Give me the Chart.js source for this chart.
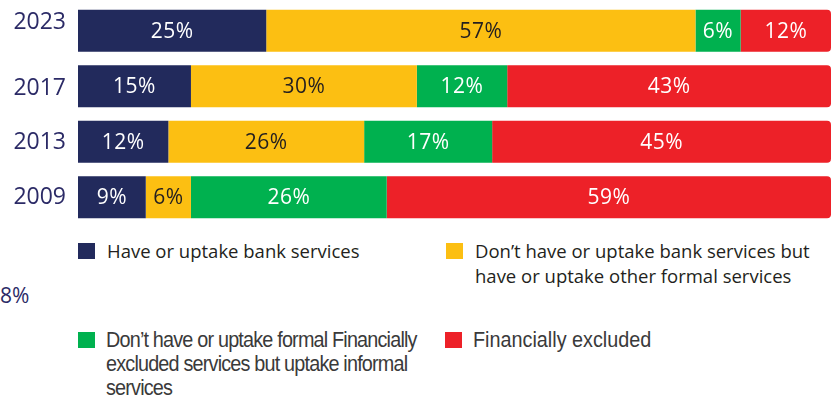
<!DOCTYPE html>
<html>
<head>
<meta charset="utf-8">
<script src="https://cdn.jsdelivr.net/npm/chart.js@4"></script>
<style>
  html, body { margin: 0; padding: 0; background: #ffffff; }
  #wrap { position: relative; width: 835px; height: 400px; overflow: hidden; }
  #c { position: absolute; left: 0; top: 0; }
  .sw { position: absolute; width: 17px; height: 16px; }
  .txt { position: absolute; white-space: nowrap; }
  .reg { font-family: "Open Sans", sans-serif; font-size: 18.5px; color: #231f20; line-height: 25px; }
  .cond { font-family: "Liberation Sans", Arial, sans-serif; font-size: 22px; color: #3a3a3a; line-height: 24px;
          transform: scaleX(0.9); transform-origin: 0 0; }
  .tight { letter-spacing: -0.9px; }
  #stray { position: absolute; left: 0; top: 281px; font-family: "Open Sans", sans-serif; font-size: 21px; color: #2b2a66; }
</style>
</head>
<body>
<div id="wrap">
  <canvas id="c" width="835" height="228"></canvas>
  <div id="stray">8%</div>
  <div id="legend"></div>
</div>
<script>
// Survey years, top to bottom
const years = ['2023', '2017', '2013', '2009'];

// Share of adults (%) in each access group
const bankServices = [25, 15, 12, 9];
const otherFormal  = [57, 30, 26, 6];
const informalOnly = [6, 12, 17, 26];
const excluded     = [12, 43, 45, 59];

const seriesNames = [
  'Have or uptake bank services',
  'Don\u2019t have or uptake bank services but have or uptake other formal services',
  'Don\u2019t have or uptake formal Financially excluded services but uptake informal services',
  'Financially excluded'
];
const seriesColors = ['#222a5c', '#fcbf12', '#00b14f', '#ed2128'];
const labelColors  = ['#ffffff', '#231f20', '#ffffff', '#ffffff'];

// Percent labels drawn in the middle of each segment
const segmentLabels = {
  id: 'segmentLabels',
  afterDatasetsDraw(chart) {
    const ctx = chart.ctx;
    ctx.save();
    ctx.font = '21px "Open Sans", sans-serif';
    ctx.letterSpacing = '0.5px';
    ctx.textAlign = 'center';
    ctx.textBaseline = 'middle';
    chart.data.datasets.forEach((ds, di) => {
      const meta = chart.getDatasetMeta(di);
      meta.data.forEach((bar, i) => {
        const cx = (bar.x + bar.base) / 2;
        ctx.fillStyle = labelColors[di];
        ctx.fillText(ds.data[i] + '%', cx, bar.y + 1);
      });
    });
    ctx.restore();
  }
};

// Year labels to the left of the bars; the top one sits a little high
const yearLabels = {
  id: 'yearLabels',
  afterDraw(chart) {
    const ctx = chart.ctx;
    const yScale = chart.scales.y;
    const lift = [-8, 2, 1, 0];
    ctx.save();
    ctx.font = '23px "Open Sans", sans-serif';
    ctx.fillStyle = '#2b2a66';
    ctx.textAlign = 'right';
    ctx.textBaseline = 'middle';
    chart.data.labels.forEach((lab, i) => {
      ctx.fillText(lab, 66, yScale.getPixelForValue(i) + lift[i]);
    });
    ctx.restore();
  }
};

const datasets = [bankServices, otherFormal, informalOnly, excluded].map((d, i) => ({
  label: seriesNames[i],
  data: d,
  backgroundColor: seriesColors[i],
  borderWidth: 0,
  borderRadius: i === 3 ? 4 : 0,
  borderSkipped: 'start',
  categoryPercentage: 1,
  barPercentage: 0.76
}));

new Chart(document.getElementById('c'), {
  type: 'bar',
  data: { labels: years, datasets },
  options: {
    indexAxis: 'y',
    responsive: false,
    animation: false,
    devicePixelRatio: 1,
    layout: { padding: { top: 3, bottom: 3, right: 4, left: 0 } },
    plugins: { legend: { display: false }, tooltip: { enabled: false } },
    scales: {
      x: { stacked: true, min: 0, max: 100, display: false },
      y: {
        stacked: true,
        grid: { display: false, drawTicks: false },
        border: { display: false },
        ticks: { display: false },
        afterFit(scale) { scale.width = 78; }
      }
    }
  },
  plugins: [segmentLabels, yearLabels]
});

// Legend laid out in two columns below the bars
const legendSpec = [
  { x: 78,  y: 243, cls: 'reg',        lines: ['Have or uptake bank services'] },
  { x: 446, y: 243, cls: 'reg',        lines: ['Don\u2019t have or uptake bank services but', 'have or uptake other formal services'] },
  { x: 78,  y: 332, cls: 'cond tight', lines: ['Don\u2019t have or uptake formal Financially', 'excluded services but uptake informal', 'services'] },
  { x: 445, y: 332, cls: 'cond',       lines: ['Financially excluded'] }
];
const legendEl = document.getElementById('legend');
legendSpec.forEach((s, i) => {
  const sw = document.createElement('div');
  sw.className = 'sw';
  sw.style.left = s.x + 'px';
  sw.style.top = s.y + 'px';
  sw.style.background = seriesColors[i];
  legendEl.appendChild(sw);
  const t = document.createElement('div');
  t.className = 'txt ' + s.cls;
  t.style.left = (s.x + (s.cls === 'reg' ? 29 : 28)) + 'px';
  t.style.top = (s.y - (s.cls === 'reg' ? 5 : 4)) + 'px';
  t.innerHTML = s.lines.join('<br>');
  legendEl.appendChild(t);
});
</script>
</body>
</html>
